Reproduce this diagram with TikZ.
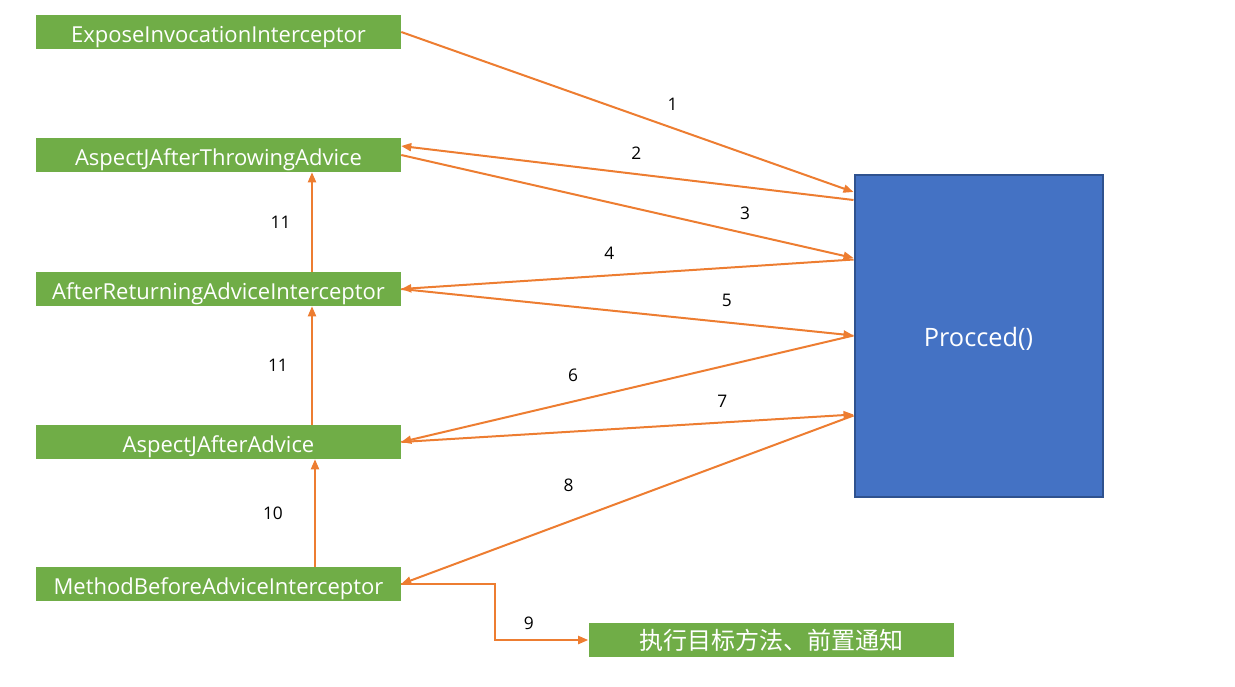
\documentclass[tikz,border=0pt]{standalone}
\usepackage{fontspec}
\setmainfont{Open Sans}
\newfontfamily\cjk{Noto Sans CJK SC}
\usetikzlibrary{positioning, calc, arrows.meta}

\definecolor{advicegreen}{HTML}{70AD47}
\definecolor{callblue}{HTML}{4472C4}
\definecolor{callborder}{HTML}{2F528F}
\definecolor{callorange}{HTML}{ED7D31}

\tikzset{
  advice/.style={fill=advicegreen, text=white, minimum width=273.75pt,
    minimum height=25.5pt, inner sep=0pt, text height=15.4pt, text depth=0pt,
    font=\fontsize{16.5}{16.5}\selectfont},
  call/.style={draw=callorange, line width=1.5pt,
    -{Triangle[length=7.5pt, width=6pt]}},
  step label/.style={font=\fontsize{13}{13}\selectfont, text=black}
}

\begin{document}
\begin{tikzpicture}[x=0.75pt, y=-0.75pt]
    \useasboundingbox (0,0) rectangle (1235,686);

    % interceptor chain
    \node[advice] (expose) at (218.5,32) {ExposeInvocationInterceptor};
    \node[advice] (throwing) at (218.5,155) {AspectJAfterThrowingAdvice};
    \node[advice] (returning) at (218.5,289) {AfterReturningAdviceInterceptor};
    \node[advice] (after) at (218.5,442) {AspectJAfterAdvice};
    \node[advice] (before) at (218.5,584) {MethodBeforeAdviceInterceptor};
    \node[advice, text height=14pt, font=\cjk\fontsize{18}{18}\selectfont] (target) at (771,640) {执行目标方法、前置通知};

    \node[fill=callblue, draw=callborder, line width=1.5pt, text=white,
      minimum width=186pt, minimum height=241.5pt, inner sep=0pt,
      text height=16.8pt, text depth=0pt,
      font=\fontsize{19}{19}\selectfont] (proceed) at (978.5,335.5) {Procced()};

    % calls into proceed and back
    \draw[call] (expose.east) -- node[step label, pos=0.6, yshift=17.7pt] {1} ($(proceed.west)+(0,-143.5)$);
    \draw[call] ($(proceed.west)+(0,-135.5)$) -- node[step label, pos=0.48, yshift=15.6pt] {2} ($(throwing.east)+(0,-9)$);
    \draw[call] (throwing.east) -- node[step label, pos=0.76, yshift=15.3pt] {3} ($(proceed.west)+(0,-77.5)$);
    \draw[call] ($(proceed.west)+(0,-76)$) -- node[step label, pos=0.54, yshift=16.5pt] {4} (returning.east);
    \draw[call] (returning.east) -- node[step label, pos=0.72, yshift=16.6pt] {5} (proceed.west);
    \draw[call] (proceed.west) -- node[step label, pos=0.62, yshift=19.7pt] {6} (after.east);
    \draw[call] (after.east) -- node[step label, pos=0.71, yshift=16.2pt] {7} ($(proceed.west)+(0,79)$);
    \draw[call] ($(proceed.west)+(0,80)$) -- node[step label, pos=0.63, yshift=27pt] {8} (before.east);
    \draw[call] (before.east) -- ++(94,0) |- node[step label, pos=0.68, yshift=12.7pt] {9} (target.west);

    % returns up the chain
    \draw[call] ($(before.north)+(96.5,0)$) -- node[step label, left=20pt] {10} ($(after.south)+(96.5,0)$);
    \draw[call] ($(after.north)+(93.5,0)$) -- node[step label, left=14pt] {11} ($(returning.south)+(93.5,0)$);
    \draw[call] ($(returning.north)+(93.5,0)$) -- node[step label, left=12pt] {11} ($(throwing.south)+(93.5,0)$);
\end{tikzpicture}
\end{document}
